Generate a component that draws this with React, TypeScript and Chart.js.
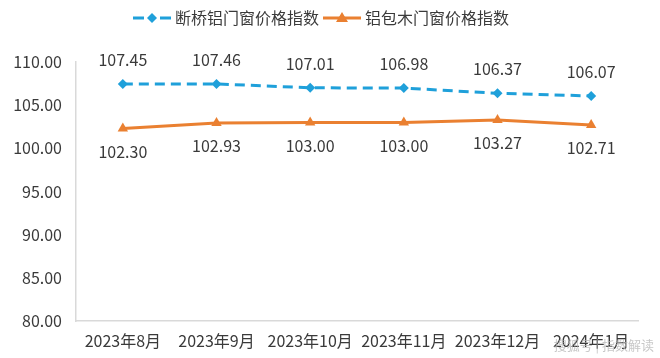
import React, { useEffect, useRef } from "react";
import { Chart, registerables } from "chart.js";

Chart.register(...registerables);

const categories = ["2023年8月", "2023年9月", "2023年10月", "2023年11月", "2023年12月", "2024年1月"];
const aluminumIndex = [107.45, 107.46, 107.01, 106.98, 106.37, 106.07];
const aluWoodIndex = [102.3, 102.93, 103.0, 103.0, 103.27, 102.71];
const seriesNames = ["断桥铝门窗价格指数", "铝包木门窗价格指数"];
const yMin = 80;
const yMax = 110;
const yStep = 5;

const BLUE = "#1FA0DA";
const ORANGE = "#EA8031";
const TEXT = "#3A3A3A";
const FONT = "'Noto Sans CJK SC', 'Noto Sans', sans-serif";

const labelsPlugin = {
  id: "valueLabels",
  afterDatasetsDraw(chart: any) {
    const ctx = chart.ctx;
    ctx.save();
    ctx.font = `16px ${FONT}`;
    ctx.fillStyle = TEXT;
    ctx.textAlign = "center";
    ctx.textBaseline = "middle";
    chart.data.datasets.forEach((ds: any, i: number) => {
      const meta = chart.getDatasetMeta(i);
      meta.data.forEach((pt: any, j: number) => {
        const v = ds.data[j] as number;
        const off = i === 0 ? -24 : 23;
        ctx.fillText(v.toFixed(2), pt.x, pt.y + off);
      });
    });
    ctx.restore();
  },
};

const legendPlugin = {
  id: "customLegend",
  afterDraw(chart: any) {
    const ctx = chart.ctx;
    ctx.save();
    ctx.font = `16px ${FONT}`;
    const sampleW = 38;
    const gap = 4;
    const itemGap = 4;
    const w0 = ctx.measureText(seriesNames[0]).width;
    const w1 = ctx.measureText(seriesNames[1]).width;
    const total = sampleW + gap + w0 + itemGap + sampleW + gap + w1;
    let x = (chart.width - total) / 2 - 9;
    const y = 18;
    // blue sample
    ctx.strokeStyle = BLUE;
    ctx.lineWidth = 3;
    ctx.beginPath();
    ctx.moveTo(x, y);
    ctx.lineTo(x + 11, y);
    ctx.moveTo(x + sampleW - 11, y);
    ctx.lineTo(x + sampleW, y);
    ctx.stroke();
    ctx.fillStyle = BLUE;
    const cx = x + sampleW / 2;
    ctx.beginPath();
    ctx.moveTo(cx, y - 5);
    ctx.lineTo(cx + 5, y);
    ctx.lineTo(cx, y + 5);
    ctx.lineTo(cx - 5, y);
    ctx.closePath();
    ctx.fill();
    x += sampleW + gap;
    ctx.fillStyle = TEXT;
    ctx.textBaseline = "middle";
    ctx.textAlign = "left";
    ctx.fillText(seriesNames[0], x, y);
    x += w0 + itemGap;
    // orange sample
    ctx.strokeStyle = ORANGE;
    ctx.beginPath();
    ctx.moveTo(x, y);
    ctx.lineTo(x + sampleW, y);
    ctx.stroke();
    ctx.fillStyle = ORANGE;
    const ox = x + sampleW / 2;
    ctx.beginPath();
    ctx.moveTo(ox, y - 6);
    ctx.lineTo(ox + 6, y + 4);
    ctx.lineTo(ox - 6, y + 4);
    ctx.closePath();
    ctx.fill();
    x += sampleW + gap;
    ctx.fillStyle = TEXT;
    ctx.fillText(seriesNames[1], x, y);
    ctx.restore();
  },
};

export default function App() {
  const ref = useRef<HTMLCanvasElement>(null);
  useEffect(() => {
    document.body.style.margin = "0";
    if (!ref.current) return;
    const chart = new Chart(ref.current, {
      type: "line",
      data: {
        labels: categories,
        datasets: [
          {
            label: seriesNames[0],
            data: aluminumIndex,
            borderColor: BLUE,
            backgroundColor: BLUE,
            borderWidth: 3,
            borderDash: [10, 6],
            pointStyle: "rectRot",
            pointRadius: 5,
            pointBorderWidth: 0,
            tension: 0,
          },
          {
            label: seriesNames[1],
            data: aluWoodIndex,
            borderColor: ORANGE,
            backgroundColor: ORANGE,
            borderWidth: 3,
            pointStyle: "triangle",
            pointRadius: 6,
            pointBorderWidth: 0,
            tension: 0,
          },
        ],
      },
      options: {
        responsive: false,
        animation: false,
        layout: { padding: { top: 62, right: 22, bottom: 0, left: 0 } },
        plugins: { legend: { display: false }, tooltip: { enabled: false } },
        scales: {
          x: {
            offset: true,
            grid: { display: false },
            border: { display: true, color: "#D9D9D9", width: 1.5 },
            ticks: { color: TEXT, font: { family: FONT, size: 16 }, padding: 2, maxRotation: 0, autoSkip: false },
            afterFit(scale: any) {
              scale.height = 37;
            },
          },
          y: {
            min: yMin,
            max: yMax,
            grid: { display: false },
            border: { display: true, color: "#D9D9D9", width: 1.5 },
            ticks: {
              stepSize: yStep,
              color: TEXT,
              font: { family: FONT, size: 16 },
              padding: 6,
              callback: (v: any) => Number(v).toFixed(2),
            },
            afterFit(scale: any) {
              scale.width = 76;
            },
          },
        },
      },
      plugins: [labelsPlugin, legendPlugin],
    });
    return () => chart.destroy();
  }, []);
  return (
    <div style={{ position: "relative", width: 660, height: 358, background: "#fff" }}>
      <canvas ref={ref} width={660} height={358} />
      <div
        style={{
          position: "absolute",
          right: 6,
          bottom: 4,
          fontFamily: FONT,
          fontSize: 13,
          color: "rgba(180,180,180,0.75)",
        }}
      >
        搜狐号 | 指数解读
      </div>
    </div>
  );
}
